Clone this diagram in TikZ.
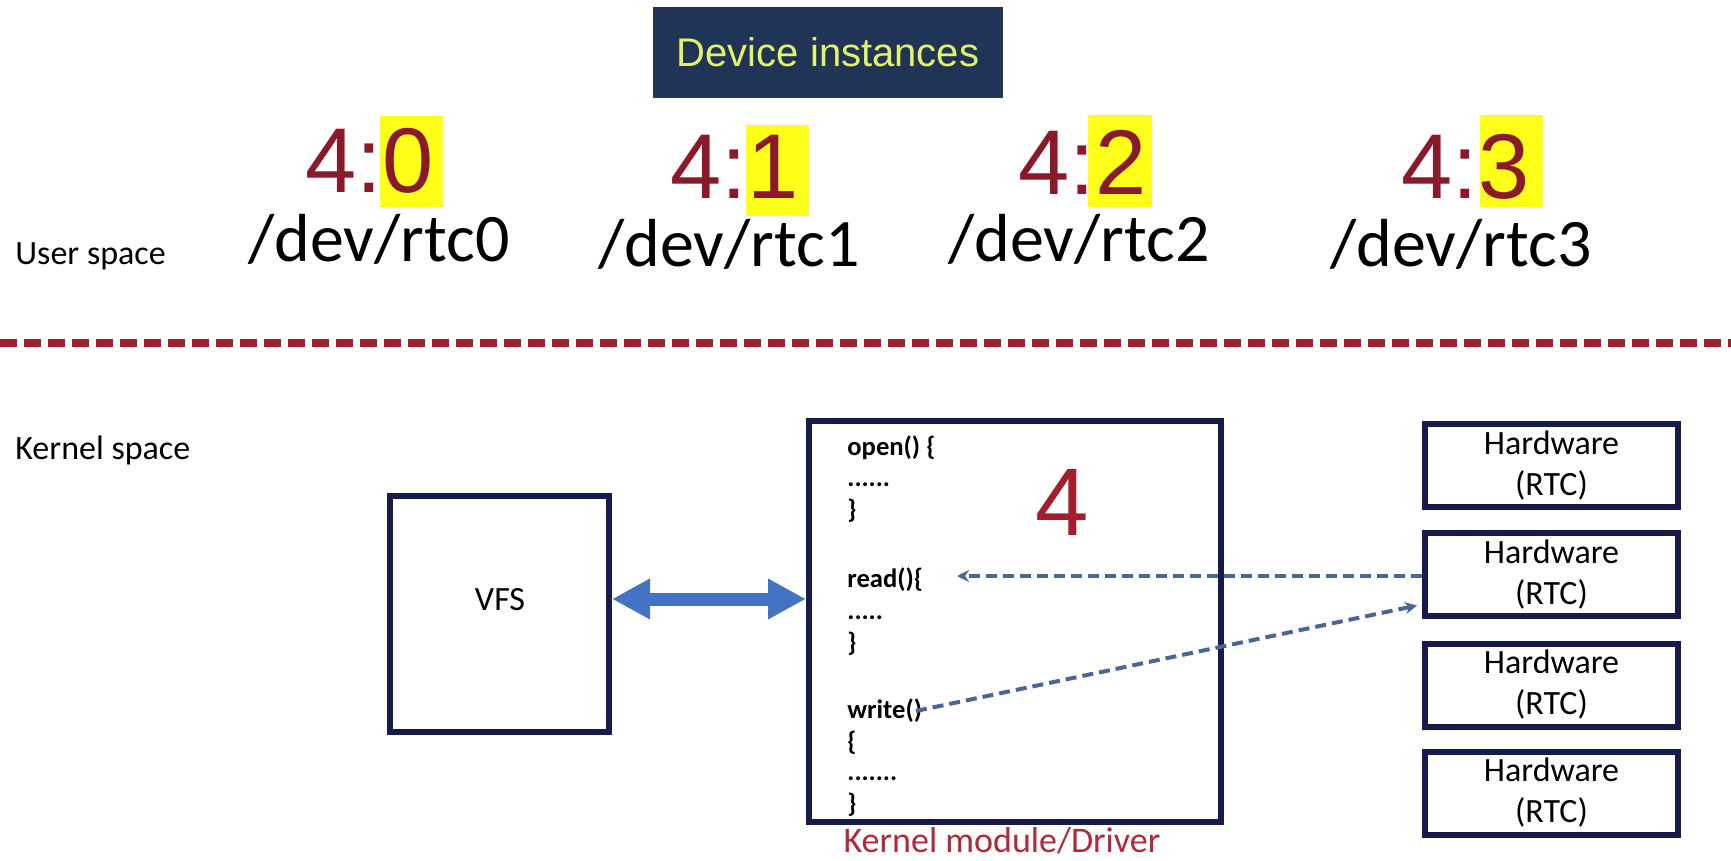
\documentclass[tikz,border=0pt]{standalone}
\usepackage{fontspec}
\setmainfont{Carlito}
\newfontfamily\arialf{Liberation Sans}
\usetikzlibrary{arrows.meta,calc}
\definecolor{navy}{HTML}{161B4B}
\definecolor{devbg}{HTML}{1F3457}
\definecolor{devtx}{HTML}{E2F36A}
\definecolor{dred}{HTML}{8A1A2A}
\definecolor{lred}{HTML}{A31E2C}
\definecolor{hlyel}{HTML}{FFFF1A}
\definecolor{arrblue}{HTML}{4472C4}
\definecolor{dashblue}{HTML}{4A6794}
\definecolor{krred}{HTML}{B3283A}
\begin{document}
\begin{tikzpicture}[x=0.5pt,y=-0.5pt,
  box/.style={draw=navy, line width=3pt, inner sep=0pt, fill=white},
  hwbox/.style={box, minimum width=126.5pt, minimum height=41.5pt, align=center, font=\fontsize{17}{20.5}\selectfont},
  major/.style={font=\arialf\fontsize{46}{50}\selectfont, text=dred, inner sep=0pt, anchor=base west},
  devpath/.style={font=\fontsize{34}{40}\selectfont, inner sep=0pt, anchor=base west},
  code/.style={font=\bfseries\fontsize{13.3}{16}\selectfont, inner sep=0pt, anchor=base west},
  side/.style={font=\fontsize{17}{20}\selectfont, inner sep=0pt, anchor=base west},
  hl/.style={fill=hlyel},
  dasharrow/.style={draw=dashblue, line width=2pt, dash pattern=on 5.5pt off 3pt, -{Stealth[length=6pt,width=6pt]}}
]
\fill[white] (0,0) rectangle (1731,861);
\useasboundingbox (0,0) rectangle (1731,861);

% title
\node[fill=devbg, minimum width=175pt, minimum height=45.5pt, inner sep=0pt, text=devtx, font=\arialf\fontsize{20}{24}\selectfont] (dev) at (828,52.5) {Device instances};

% device numbers
\fill[hl] (380,116) rectangle (443,207);
\node[major] (m0) at (305,193) {4:0};
\fill[hl] (746,125) rectangle (809,216);
\node[major] (m1) at (670,199) {4:1};
\fill[hl] (1088,115) rectangle (1152,207);
\node[major] (m2) at (1018,195) {4:2};
\fill[hl] (1480,115) rectangle (1543,207);
\node[major] (m3) at (1401,199) {4:3};

\node[devpath] (p0) at (248,262) {/dev/rtc0};
\node[devpath] (p1) at (598,267) {/dev/rtc1};
\node[devpath] (p2) at (948,262) {/dev/rtc2};
\node[devpath] (p3) at (1330,267) {/dev/rtc3};

\node[side] (us) at (15,265) {User space};
\node[side] (ks) at (15,459) {Kernel space};

% separator
\coordinate (dl) at (0,343);
\coordinate (dr) at (1731,343);
\draw[lred, line width=4pt, dash pattern=on 8.5pt off 3.5pt] (dl) -- (dr);

% VFS
\node[box, minimum width=109.5pt, minimum height=118pt] (vfs) at (499.5,614) {};
\node[font=\fontsize{17}{20}\selectfont] (vfst) at (500,600) {VFS};

% driver
\node[box, minimum width=206pt, minimum height=200.5pt] (drv) at (1015,621.5) {};
\node[code] (c1) at (847,455) {open() \{};
\node[code] (c2) at (847,487) {......};
\node[code] (c3) at (847,518) {\}};
\node[code] (c4) at (847,587) {read()\{};
\node[code] (c5) at (847,619) {.....};
\node[code] (c6) at (847,651) {\}};
\node[code] (c7) at (847,718) {write()};
\node[code] (c8) at (847,750) {\{};
\node[code] (c9) at (847,780) {.......};
\node[code] (c10) at (847,812) {\}};
\node[font=\arialf\fontsize{48}{50}\selectfont, text=lred, inner sep=0pt] (four) at (1062,502.5) {4};
\node[font=\fontsize{18}{20}\selectfont, text=krred, inner sep=0pt, anchor=base] (klab) at (1002,852) {Kernel module/Driver};

% hardware
\node[hwbox] (hw1) at (1551.5,465.5) {Hardware\\(RTC)};
\node[hwbox] (hw2) at (1551.5,574.5) {Hardware\\(RTC)};
\node[hwbox] (hw3) at (1551.5,685) {Hardware\\(RTC)};
\node[hwbox] (hw4) at (1551.5,793) {Hardware\\(RTC)};

% double arrow
\coordinate (ay) at (0,599);
\draw[arrblue, line width=6.5pt, {Triangle[length=19pt,width=19pt]}-{Triangle[length=19pt,width=19pt]}] (vfs.east |- ay) -- (drv.west |- ay);

% dashed arrows
\coordinate (rd) at (957,576);
\draw[dasharrow] (hw2.west |- rd) -- (rd);
\coordinate (wr) at (916,711);
\draw[dasharrow] (wr) -- ($(hw2.west)+(-5,31)$);
\end{tikzpicture}
\end{document}
